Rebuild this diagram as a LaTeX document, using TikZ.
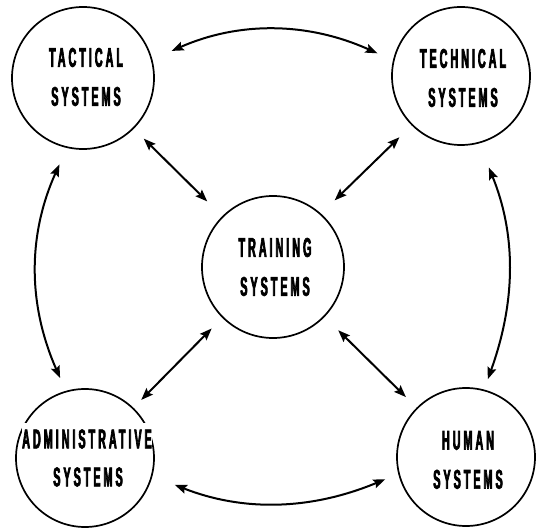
\documentclass[tikz,border=0pt]{standalone}
\usepackage{fontspec}
\usepackage{tikz}
\usetikzlibrary{arrows.meta}

% narrow, heavy, tracked capitals for the circle captions
\newfontfamily\sysfont[FakeStretch=0.4,LetterSpace=11,FakeBold=2.5]{Liberation Sans}

\begin{document}
\begin{tikzpicture}[
    x=1pt, y=1pt,
    sys/.style={circle, draw=black, line width=1.7pt, minimum size=140pt, inner sep=0pt},
    lbl/.style={align=center, inner sep=0pt, font=\sysfont\bfseries\fontsize{27}{39}\selectfont},
    link/.style={{Stealth[length=12pt,width=9pt,inset=2pt]}-{Stealth[length=12pt,width=9pt,inset=2pt]}, line width=2pt}
]
\useasboundingbox (0,0) rectangle (541,-529);

% Systems around the training block
\node[sys, minimum size=142pt] (tac) at (83,-78) {};
\node[sys, minimum size=138pt] (tec) at (461,-76) {};
\node[sys, minimum size=142pt] (trn) at (273,-267) {};
\node[sys, minimum size=138pt] (adm) at (85,-458) {};
\node[sys, minimum size=138pt] (hum) at (466,-457) {};

% Captions
\node[lbl] (tac-t) at (86,-77) {TACTICAL\\SYSTEMS};
\node[lbl] (tec-t) at (463,-78) {TECHNICAL\\SYSTEMS};
\node[lbl] (trn-t) at (275,-267) {TRAINING\\SYSTEMS};
\node[lbl, fill=white, inner ysep=6pt] (adm-t) at (87,-439) {ADMINISTRATIVE};
\node[lbl] (adm-s) at (88,-477) {SYSTEMS};
\node[lbl] (hum-t) at (468,-460) {HUMAN\\SYSTEMS};

% Outer ring
\draw[link, shorten <=21pt, shorten >=17pt] (tac.15) to[bend left=24] (tec.167);
\draw[link, shorten <=26pt, shorten >=11pt] (tec.-75) to[bend left=21] (hum.75);
\draw[link, shorten <=14pt, shorten >=24pt] (hum.194) to[bend left=22] (adm.-15);
\draw[link, shorten <=14pt, shorten >=18pt] (adm.106) to[bend left=24] (tac.-103);

% Spokes to the centre
\draw[link, shorten <=14pt, shorten >=21pt] (tac.-45) -- (trn.135);
\draw[link, shorten <=17pt, shorten >=19pt] (tec.225) -- (trn.48);
\draw[link, shorten <=15pt, shorten >=11pt] (trn.225) -- (adm.46);
\draw[link, shorten <=19pt, shorten >=15pt] (trn.-44) -- (hum.135);

\end{tikzpicture}
\end{document}
